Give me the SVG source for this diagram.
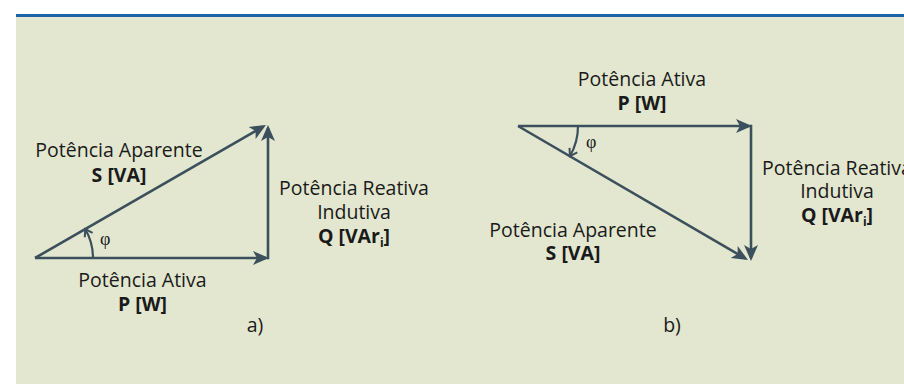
<svg xmlns="http://www.w3.org/2000/svg" width="904" height="391" viewBox="0 0 904 391">
<style>
  .lbl{font-family:"Open Sans","Noto Sans",sans-serif;font-size:19.5px;fill:#1a1a1a;text-anchor:middle}
  .b{font-weight:700}
  .phi{font-family:"Liberation Serif","DejaVu Serif",serif;font-size:18px;fill:#1a1a1a}
  .vec{stroke:#3b505c;stroke-width:2.6;fill:none}
  .arc{stroke:#3b505c;stroke-width:2.2;fill:none}
</style>
<defs>
  <marker id="head" markerUnits="userSpaceOnUse" markerWidth="18" markerHeight="16" refX="13" refY="7" orient="auto" overflow="visible">
    <path d="M0,0 L16,7 L0,14 L4,7 Z" fill="#3b505c"/>
  </marker>
  <marker id="chev" markerUnits="userSpaceOnUse" markerWidth="12" markerHeight="12" refX="8" refY="5" orient="auto" overflow="visible">
    <path d="M1,0.5 L8,5 L1,9.5" fill="none" stroke="#3b505c" stroke-width="2"/>
  </marker>
</defs>
<rect x="0" y="0" width="904" height="391" fill="#ffffff"/>
<rect x="16" y="17" width="888" height="367" fill="#e3e7cf"/>
<rect x="16" y="14" width="888" height="3" fill="#1d63a8"/>

<g id="connectors">
  <line class="vec" x1="35" y1="258" x2="266" y2="258" marker-end="url(#head)"/>
  <line class="vec" x1="268" y1="259.3" x2="268" y2="128" marker-end="url(#head)"/>
  <line class="vec" x1="35" y1="258" x2="263.4" y2="126.5" marker-end="url(#head)"/>
  <path class="arc" d="M93,258 A58,58 0 0 0 85.2,229" marker-end="url(#chev)"/>

  <line class="vec" x1="518" y1="126" x2="749" y2="126" marker-end="url(#head)"/>
  <line class="vec" x1="751" y1="124.7" x2="751" y2="258" marker-end="url(#head)"/>
  <line class="vec" x1="518" y1="126" x2="745.4" y2="258.5" marker-end="url(#head)"/>
  <path class="arc" d="M578,126 A60,60 0 0 1 569.9,156.2" marker-end="url(#chev)"/>
</g>

<g id="diagram-a">
  <g id="a-aparente">
    <text class="lbl" x="119" y="157">Potência Aparente</text>
    <text class="lbl b" x="119" y="182">S [VA]</text>
  </g>
  <g id="a-reativa">
    <text class="lbl" x="354" y="195">Potência Reativa</text>
    <text class="lbl" x="354" y="219">Indutiva</text>
    <text class="lbl b" x="354" y="243">Q [VAr<tspan font-size="12" dy="4">i</tspan><tspan dy="-4">]</tspan></text>
  </g>
  <g id="a-ativa">
    <text class="lbl" x="142.5" y="287">Potência Ativa</text>
    <text class="lbl b" x="142.5" y="311">P [W]</text>
  </g>
  <text class="phi" x="100" y="245">φ</text>
  <text class="lbl" x="255" y="332">a)</text>
</g>

<g id="diagram-b">
  <g id="b-ativa">
    <text class="lbl" x="642" y="86">Potência Ativa</text>
    <text class="lbl b" x="642" y="110">P [W]</text>
  </g>
  <g id="b-reativa">
    <text class="lbl" x="837" y="175">Potência Reativa</text>
    <text class="lbl" x="837" y="198">Indutiva</text>
    <text class="lbl b" x="837" y="222">Q [VAr<tspan font-size="12" dy="4">i</tspan><tspan dy="-4">]</tspan></text>
  </g>
  <g id="b-aparente">
    <text class="lbl" x="573" y="237">Potência Aparente</text>
    <text class="lbl b" x="573" y="260">S [VA]</text>
  </g>
  <text class="phi" x="586" y="148">φ</text>
  <text class="lbl" x="672" y="332">b)</text>
</g>
</svg>
